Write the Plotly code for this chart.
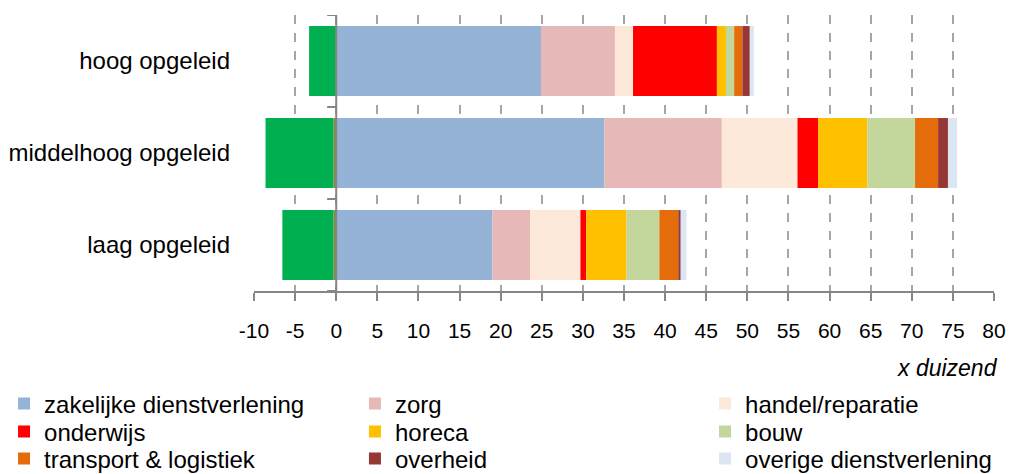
import plotly.graph_objects as go

# categories, top to bottom
categories = ["hoog opgeleid", "middelhoog opgeleid", "laag opgeleid"]

# negative parts (x duizend), not in legend
neg_olive = [-0.1, -0.35, -0.35]
neg_green = [-3.2, -8.25, -6.2]

# sectors (x duizend)
series_names = [
    "zakelijke dienstverlening", "zorg", "handel/reparatie",
    "onderwijs", "horeca", "bouw",
    "transport & logistiek", "overheid", "overige dienstverlening",
]
zakelijke = [24.9, 32.6, 19.0]
zorg = [9.0, 14.3, 4.6]
handel = [2.2, 9.2, 6.1]
onderwijs = [10.2, 2.5, 0.7]
horeca = [1.1, 6.0, 4.9]
bouw = [1.0, 5.8, 4.0]
transport = [1.0, 2.8, 2.3]
overheid = [0.9, 1.2, 0.3]
overige = [0.5, 1.1, 0.7]
series_values = [zakelijke, zorg, handel, onderwijs, horeca, bouw, transport, overheid, overige]

colors = [
    "#95B3D7", "#E6B9B8", "#FDE9D9",
    "#FF0000", "#FFC000", "#C3D69B",
    "#E46C0A", "#953735", "#DCE6F2",
]

x_ticks = list(range(-10, 81, 5))

FONT = "Liberation Sans, Arial, sans-serif"
AXIS_GREY = "#868686"

ypos = list(range(len(categories) - 1, -1, -1))

# legend grid: 3 columns x 3 rows (container fractions)
legend_cols = [0.004, 0.3504, 0.696]
legend_rows = [1 - 404 / 474, 1 - 432 / 474, 1 - 459 / 474]

fig = go.Figure()

fig.add_trace(go.Bar(x=neg_olive, y=ypos, orientation="h", marker_color="#7F8F3A",
                     marker_line_width=0, showlegend=False))
fig.add_trace(go.Bar(x=neg_green, y=ypos, orientation="h", marker_color="#00B050",
                     marker_line_width=0, showlegend=False))

legend_layout = {}
for i, (name, vals, col) in enumerate(zip(series_names, series_values, colors)):
    lid = "legend" if i == 0 else f"legend{i + 1}"
    fig.add_trace(
        go.Bar(
            x=vals,
            y=ypos,
            orientation="h",
            name=name,
            marker_color=col,
            marker_line_width=0,
            legend=lid,
        )
    )
    legend_layout[lid] = dict(
        x=legend_cols[i % 3],
        y=legend_rows[i // 3],
        xref="container",
        yref="container",
        xanchor="left",
        yanchor="middle",
        font=dict(family=FONT, size=24, color="black"),
        bgcolor="rgba(0,0,0,0)",
        itemclick=False,
    )

# y-axis line at x=0 with ticks between the categories
shapes = [dict(type="line", xref="x", yref="y domain", x0=0, x1=0, y0=0, y1=1,
               line=dict(color=AXIS_GREY, width=2), layer="above")]
for k in range(len(categories) + 1):
    b = k - 0.5
    shapes.append(dict(type="line", xref="x", yref="y", x0=-1.1, x1=0, y0=b, y1=b,
                       line=dict(color=AXIS_GREY, width=2), layer="above"))

fig.update_layout(
    width=1013,
    height=474,
    barmode="relative",
    bargap=0.24,
    plot_bgcolor="white",
    paper_bgcolor="white",
    margin=dict(l=254, r=19, t=15, b=183, autoexpand=False),
    font=dict(family=FONT, size=23, color="black"),
    xaxis=dict(
        range=[-10, 80],
        tickvals=x_ticks,
        ticktext=[str(v) for v in x_ticks],
        showgrid=True,
        gridcolor="#A6A6A6",
        griddash="dash",
        gridwidth=1.5,
        zeroline=False,
        showline=True,
        linecolor=AXIS_GREY,
        linewidth=2,
        ticks="outside",
        ticklen=8,
        tickwidth=2,
        tickcolor=AXIS_GREY,
        tickfont=dict(family=FONT, size=21, color="black"),
        ticklabelstandoff=12,
        automargin=False,
        fixedrange=True,
    ),
    yaxis=dict(
        range=[-0.5, len(categories) - 0.5],
        tickvals=ypos,
        ticktext=categories,
        showgrid=False,
        zeroline=False,
        showline=False,
        ticks="",
        tickfont=dict(family=FONT, size=24, color="black"),
        ticklabelstandoff=23,
        automargin=False,
        fixedrange=True,
    ),
    shapes=shapes,
    annotations=[
        dict(text="<i>x duizend</i>", xref="paper", yref="paper", x=1.008, y=-0.28,
             xanchor="right", yanchor="middle", showarrow=False,
             font=dict(family=FONT, size=23, color="black")),
    ],
    **legend_layout,
)

# remove the default page margin so the figure sits at the window's corner
fig.write_html(
    "out.html",
    config={"displayModeBar": False},
    post_script="document.body.style.margin='0';",
)
